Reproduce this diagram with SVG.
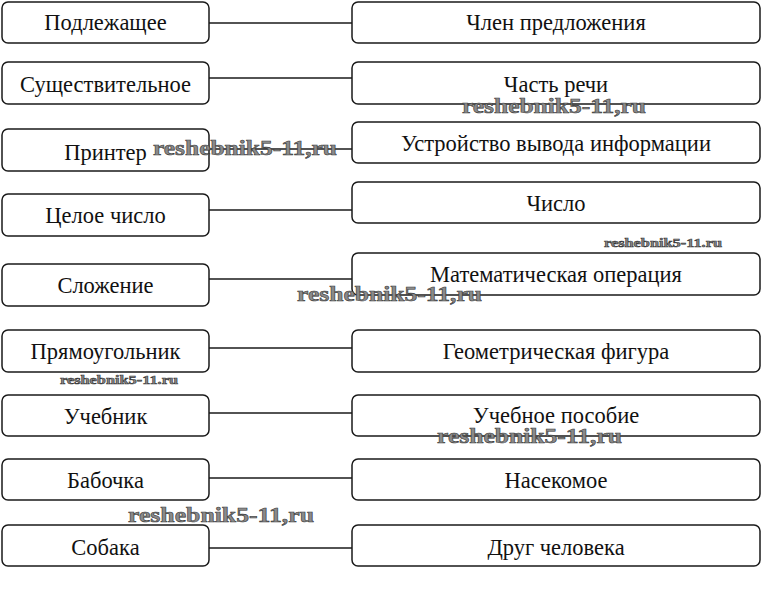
<svg xmlns="http://www.w3.org/2000/svg" width="762" height="601" viewBox="0 0 762 601">
<style>
.box{fill:#fff;stroke:#1a1a1a;stroke-width:1.5}
.t{font-family:"Liberation Serif","Times New Roman",serif;font-size:22.5px;fill:#111;text-anchor:middle}
.c line{stroke:#1a1a1a;stroke-width:1.5}
.wm{font-family:"Liberation Serif",serif;font-weight:bold;fill:#8a8a8a;stroke:#3a3a3a;stroke-width:0.6}
.wl{font-size:22px}
.ws{font-size:13px}
</style>
<rect width="762" height="601" fill="#fff"/>
<g class="c" id="connectors">
<line x1="209" y1="23" x2="352" y2="23"/>
<line x1="209" y1="78" x2="352" y2="78"/>
<line x1="209" y1="149" x2="352" y2="149"/>
<line x1="209" y1="210" x2="352" y2="210"/>
<line x1="209" y1="279" x2="352" y2="279"/>
<line x1="209" y1="348" x2="352" y2="348"/>
<line x1="209" y1="413" x2="352" y2="413"/>
<line x1="209" y1="478" x2="352" y2="478"/>
<line x1="209" y1="548" x2="352" y2="548"/>
</g>
<g id="l1"><rect class="box" x="2" y="2" width="207" height="41" rx="6"/><text class="t" x="105.5" y="30">Подлежащее</text></g>
<g id="l2"><rect class="box" x="2" y="62" width="207" height="42" rx="6"/><text class="t" x="105.5" y="92">Существительное</text></g>
<g id="l3"><rect class="box" x="2" y="129" width="207" height="42" rx="6"/><text class="t" x="105.5" y="160">Принтер</text></g>
<g id="l4"><rect class="box" x="2" y="194" width="207" height="42" rx="6"/><text class="t" x="105.5" y="223">Целое число</text></g>
<g id="l5"><rect class="box" x="2" y="264" width="207" height="42" rx="6"/><text class="t" x="105.5" y="293">Сложение</text></g>
<g id="l6"><rect class="box" x="2" y="330" width="207" height="42" rx="6"/><text class="t" x="105.5" y="359">Прямоугольник</text></g>
<g id="l7"><rect class="box" x="2" y="395" width="207" height="41" rx="6"/><text class="t" x="105.5" y="424">Учебник</text></g>
<g id="l8"><rect class="box" x="2" y="459" width="207" height="41" rx="6"/><text class="t" x="105.5" y="488">Бабочка</text></g>
<g id="l9"><rect class="box" x="2" y="525" width="207" height="41" rx="6"/><text class="t" x="105.5" y="555">Собака</text></g>
<g id="r1"><rect class="box" x="352" y="2" width="408" height="41" rx="6"/><text class="t" x="556" y="30">Член предложения</text></g>
<g id="r2"><rect class="box" x="352" y="62" width="408" height="42" rx="6"/><text class="t" x="556" y="92">Часть речи</text></g>
<g id="r3"><rect class="box" x="352" y="122" width="408" height="41" rx="6"/><text class="t" x="556" y="151">Устройство вывода информации</text></g>
<g id="r4"><rect class="box" x="352" y="182" width="408" height="41" rx="6"/><text class="t" x="556" y="211">Число</text></g>
<g id="r5"><rect class="box" x="352" y="253" width="408" height="42" rx="6"/><text class="t" x="556" y="282">Математическая операция</text></g>
<g id="r6"><rect class="box" x="352" y="330" width="408" height="42" rx="6"/><text class="t" x="556" y="359">Геометрическая фигура</text></g>
<g id="r7"><rect class="box" x="352" y="395" width="408" height="41" rx="6"/><text class="t" x="556" y="423">Учебное пособие</text></g>
<g id="r8"><rect class="box" x="352" y="459" width="408" height="41" rx="6"/><text class="t" x="556" y="488">Насекомое</text></g>
<g id="r9"><rect class="box" x="352" y="525" width="408" height="41" rx="6"/><text class="t" x="556" y="555">Друг человека</text></g>
<g id="watermarks">
<text class="wm wl" x="153" y="155" textLength="184" lengthAdjust="spacingAndGlyphs">reshebnik5-11,ru</text>
<text class="wm wl" x="462" y="113" textLength="184" lengthAdjust="spacingAndGlyphs">reshebnik5-11,ru</text>
<text class="wm ws" x="604" y="247" textLength="118" lengthAdjust="spacingAndGlyphs">reshebnik5-11.ru</text>
<text class="wm wl" x="297" y="301" textLength="185" lengthAdjust="spacingAndGlyphs">reshebnik5-11,ru</text>
<text class="wm ws" x="60" y="384" textLength="118" lengthAdjust="spacingAndGlyphs">reshebnik5-11.ru</text>
<text class="wm wl" x="437" y="443" textLength="185" lengthAdjust="spacingAndGlyphs">reshebnik5-11,ru</text>
<text class="wm wl" x="128" y="522" textLength="186" lengthAdjust="spacingAndGlyphs">reshebnik5-11,ru</text>
</g>
</svg>
